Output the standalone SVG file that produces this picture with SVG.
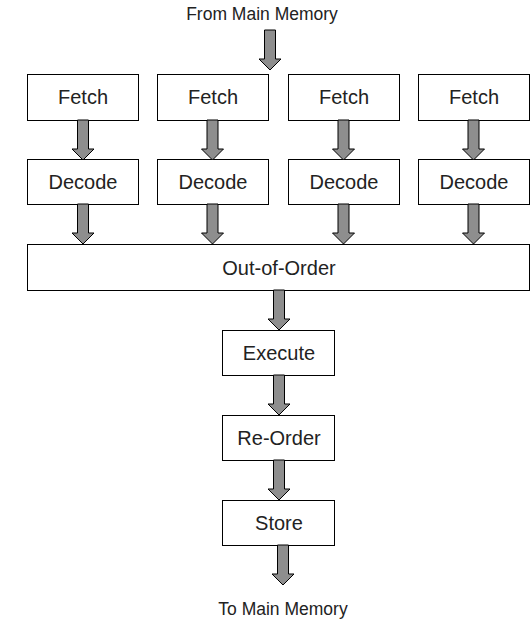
<svg xmlns="http://www.w3.org/2000/svg" width="531" height="622" viewBox="0 0 531 622">
<style>
.box{fill:#fff;stroke:#000;stroke-width:1}
.lbl{font-family:"Liberation Sans",Arial,sans-serif;font-size:20px;fill:#222;text-anchor:middle}
.ext{font-family:"Liberation Sans",Arial,sans-serif;font-size:17.5px;fill:#222;text-anchor:middle}
.arr{fill:#8e8e8e;stroke:#000;stroke-width:1}
</style>
<defs>
<path id="ar" class="arr" d="M-5.5,0 L-5.5,29 L-11,29 L0,40 L11,29 L5.5,29 L5.5,0 Z"/>
</defs>
<g id="from"><text class="ext" x="262" y="20">From Main Memory</text></g>
<g id="to"><text class="ext" x="283" y="615">To Main Memory</text></g>
<g id="fetch1"><rect class="box" x="27.5" y="74.5" width="111" height="46"/><text class="lbl" x="83" y="104">Fetch</text></g>
<g id="fetch2"><rect class="box" x="157.5" y="74.5" width="111" height="46"/><text class="lbl" x="213" y="104">Fetch</text></g>
<g id="fetch3"><rect class="box" x="288.5" y="74.5" width="111" height="46"/><text class="lbl" x="344" y="104">Fetch</text></g>
<g id="fetch4"><rect class="box" x="418.5" y="74.5" width="111" height="46"/><text class="lbl" x="474" y="104">Fetch</text></g>
<g id="decode1"><rect class="box" x="27.5" y="159.5" width="111" height="45"/><text class="lbl" x="83" y="189">Decode</text></g>
<g id="decode2"><rect class="box" x="157.5" y="159.5" width="111" height="45"/><text class="lbl" x="213" y="189">Decode</text></g>
<g id="decode3"><rect class="box" x="288.5" y="159.5" width="111" height="45"/><text class="lbl" x="344" y="189">Decode</text></g>
<g id="decode4"><rect class="box" x="418.5" y="159.5" width="111" height="45"/><text class="lbl" x="474" y="189">Decode</text></g>
<g id="ooo"><rect class="box" x="27.5" y="244.5" width="502" height="46"/><text class="lbl" x="279" y="275">Out-of-Order</text></g>
<g id="execute"><rect class="box" x="222.5" y="330.5" width="112" height="45"/><text class="lbl" x="279" y="360">Execute</text></g>
<g id="reorder"><rect class="box" x="222.5" y="415.5" width="112" height="45"/><text class="lbl" x="279" y="445">Re-Order</text></g>
<g id="store"><rect class="box" x="222.5" y="500.5" width="112" height="45"/><text class="lbl" x="279" y="530">Store</text></g>
<g id="connectors">
<use href="#ar" x="270" y="30"/>
<use href="#ar" x="83" y="120"/>
<use href="#ar" x="212.5" y="120"/>
<use href="#ar" x="343.5" y="120"/>
<use href="#ar" x="473.5" y="120"/>
<use href="#ar" x="83" y="204"/>
<use href="#ar" x="212.5" y="204"/>
<use href="#ar" x="343.5" y="204"/>
<use href="#ar" x="473.5" y="204"/>
<use href="#ar" x="279" y="290"/>
<use href="#ar" x="279" y="375"/>
<use href="#ar" x="279" y="460"/>
<use href="#ar" x="283" y="545"/>
</g>
</svg>
